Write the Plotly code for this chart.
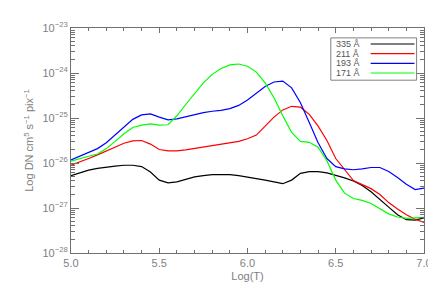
import numpy as np
import plotly.graph_objects as go

log_t = [5.00, 5.05, 5.10, 5.15, 5.20, 5.25, 5.30, 5.35, 5.40, 5.45,
         5.50, 5.55, 5.60, 5.65, 5.70, 5.75, 5.80, 5.85, 5.90, 5.95,
         6.00, 6.05, 6.10, 6.15, 6.20, 6.25, 6.30, 6.35, 6.40, 6.45,
         6.50, 6.55, 6.60, 6.65, 6.70, 6.75, 6.80, 6.85, 6.90, 6.95, 7.00]

# log10 of response values
resp_335 = [-26.28, -26.22, -26.16, -26.12, -26.09, -26.07, -26.05, -26.05, -26.08, -26.20,
            -26.38, -26.44, -26.42, -26.36, -26.31, -26.28, -26.26, -26.26, -26.26, -26.28,
            -26.31, -26.34, -26.38, -26.42, -26.46, -26.38, -26.23, -26.19, -26.19, -26.22,
            -26.27, -26.33, -26.40, -26.50, -26.64, -26.80, -26.98, -27.15, -27.26, -27.27, -27.22]
resp_211 = [-26.05, -25.98, -25.90, -25.82, -25.73, -25.64, -25.56, -25.51, -25.50, -25.58,
            -25.70, -25.73, -25.73, -25.71, -25.68, -25.65, -25.61, -25.58, -25.55, -25.52,
            -25.46, -25.38, -25.18, -24.98, -24.82, -24.74, -24.76, -24.92, -25.18, -25.50,
            -25.90, -26.15, -26.39, -26.48, -26.57, -26.70, -26.88, -27.02, -27.15, -27.25, -27.32]
resp_193 = [-25.93, -25.85, -25.77, -25.68, -25.55, -25.38, -25.20, -25.03, -24.93, -24.91,
            -24.98, -25.04, -25.02, -24.97, -24.92, -24.88, -24.85, -24.83, -24.79, -24.72,
            -24.60, -24.44, -24.30, -24.20, -24.18, -24.33, -24.66, -25.10, -25.55, -25.90,
            -26.08, -26.13, -26.15, -26.13, -26.10, -26.10, -26.19, -26.32, -26.47, -26.59, -26.56]
resp_171 = [-25.96, -25.90, -25.85, -25.80, -25.68, -25.52, -25.35, -25.21, -25.16, -25.13,
            -25.16, -25.15, -24.95, -24.70, -24.46, -24.22, -24.03, -23.90, -23.82, -23.80,
            -23.85, -23.98, -24.22, -24.55, -24.95, -25.32, -25.52, -25.54, -25.65, -25.95,
            -26.38, -26.67, -26.79, -26.83, -26.90, -27.02, -27.13, -27.20, -27.23, -27.22, -27.21]

names = ["335 Å", "211 Å", "193 Å", "171 Å"]
colors = ["#000000", "#ff0000", "#0000ff", "#00ff00"]
series = [resp_335, resp_211, resp_193, resp_171]

y_exponents = [-28, -27, -26, -25, -24, -23]

fig = go.Figure()
for nm, col, s in zip(names, colors, series):
    fig.add_trace(go.Scatter(x=log_t, y=np.power(10.0, np.array(s)), mode="lines",
                             name=nm, line=dict(color=col, width=1.2), showlegend=False))

font_col = "#808080"
axis_col = "#707070"
fam = "Liberation Sans"

major_y = [10.0 ** e for e in y_exponents]
major_txt = ["10<sup>\u2212%d</sup>" % abs(e) for e in y_exponents]
minor_y = [m * 10.0 ** e for e in y_exponents[:-1] for m in range(2, 10)]

# custom legend: text left, line right
row_y = [0.929, 0.886, 0.843, 0.800]
shapes = [dict(type="rect", xref="paper", yref="paper", x0=0.736, x1=0.979, y0=0.768, y1=0.956,
               line=dict(color="#808080", width=1), fillcolor="white")]
annotations = []
for nm, col, yy in zip(names, colors, row_y):
    shapes.append(dict(type="line", xref="paper", yref="paper", x0=0.849, x1=0.973, y0=yy, y1=yy,
                       line=dict(color=col, width=1.2)))
    annotations.append(dict(xref="paper", yref="paper", x=0.744, y=yy, text=nm, showarrow=False,
                            xanchor="left", yanchor="middle",
                            font=dict(family=fam, size=9, color="#555555")))

fig.update_layout(
    width=436, height=285,
    margin=dict(l=63, r=18, t=20, b=40),
    paper_bgcolor="white", plot_bgcolor="white",
    font=dict(family=fam, size=11, color=font_col),
    shapes=shapes, annotations=annotations,
    xaxis=dict(range=[5.0, 7.0], dtick=0.5, tick0=5.0, tickformat=".1f",
               ticks="inside", ticklen=5, tickcolor=axis_col, showgrid=False, zeroline=False,
               showline=True, linecolor=axis_col, linewidth=1, mirror="allticks",
               minor=dict(dtick=0.1, ticks="inside", ticklen=3, tickcolor=axis_col),
               title=dict(text="Log(T)", font=dict(size=11, color=font_col), standoff=4),
               tickfont=dict(size=11, color=font_col)),
    yaxis=dict(type="log", range=[-28, -23], tickmode="array", tickvals=major_y, ticktext=major_txt,
               ticks="inside", ticklen=8, tickcolor=axis_col, showgrid=False, zeroline=False,
               showline=True, linecolor=axis_col, linewidth=1, mirror="allticks",
               minor=dict(tickmode="array", tickvals=minor_y, ticks="inside", ticklen=4,
                          tickcolor=axis_col, showgrid=False),
               title=dict(text="Log DN cm<sup>5</sup> s<sup>\u22121</sup> pix<sup>\u22121</sup>",
                          font=dict(size=11, color=font_col), standoff=6),
               tickfont=dict(size=11, color=font_col)),
)

fig.write_html("out.html")
